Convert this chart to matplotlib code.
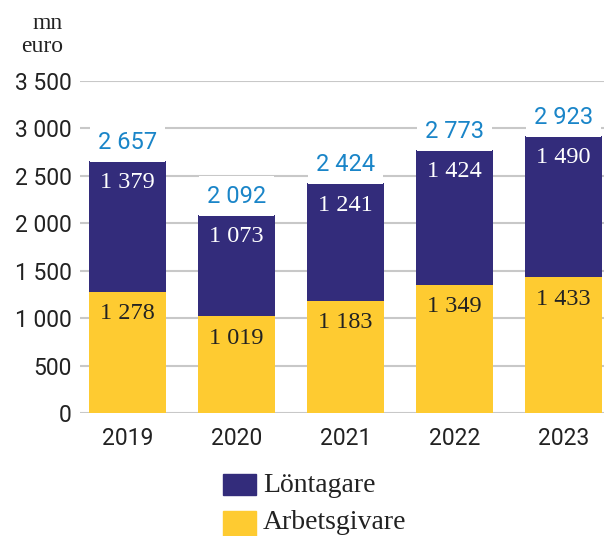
import matplotlib.pyplot as plt
import numpy as np

# data
years = ["2019", "2020", "2021", "2022", "2023"]
lontagare = [1379, 1073, 1241, 1424, 1490]
arbetsgivare = [1278, 1019, 1183, 1349, 1433]
totals = [2657, 2092, 2424, 2773, 2923]
yticks = [0, 500, 1000, 1500, 2000, 2500, 3000, 3500]

NAVY = "#332c7b"
YELLOW = "#fecb31"
BLUE = "#1a85c8"
TXT = "#222222"
SERIF = "Liberation Serif"
SANS = "Roboto"

def fmt(v):
    return f"{v:,}".replace(",", " ")

fig = plt.figure(figsize=(6.04, 5.36), dpi=100)
ax = fig.add_axes([80 / 604, 1 - 413 / 536, 524 / 604, (413 - 81) / 536])

x = np.arange(len(years))
w = 0.705
ax.bar(x, arbetsgivare, w, color=YELLOW, zorder=2)
ax.bar(x, lontagare, w, bottom=arbetsgivare, color=NAVY, zorder=2)

for i in range(len(years)):
    ax.annotate(fmt(arbetsgivare[i]), (x[i], arbetsgivare[i]), xytext=(0, -14),
                textcoords="offset points", ha="center", va="center_baseline",
                fontsize=17.5, family=SERIF, color=TXT, zorder=3)
    ax.annotate(fmt(lontagare[i]), (x[i], totals[i]), xytext=(0, -14),
                textcoords="offset points", ha="center", va="center_baseline",
                fontsize=17.5, family=SERIF, color="white", zorder=3)
    ax.annotate(fmt(totals[i]), (x[i], totals[i]), xytext=(0, 15),
                textcoords="offset points", ha="center", va="center_baseline",
                fontsize=17, family=SANS, color=BLUE, zorder=3,
                bbox=dict(boxstyle="square,pad=0.35", fc="white", ec="none"))

ax.set_xlim(-0.436, 4.37)
ax.set_ylim(0, 3500)
ax.set_yticks(yticks)
ax.set_yticklabels([fmt(v) for v in yticks], family=SANS, fontsize=16.5, color=TXT)
ax.set_xticks(x)
ax.set_xticklabels(years, family=SANS, fontsize=16.5, color=TXT)
ax.tick_params(axis="both", length=0)
ax.tick_params(axis="y", pad=6)
ax.tick_params(axis="x", pad=10)
ax.grid(axis="y", color="#c8c8c8", linewidth=1.5, zorder=0)
for s in ax.spines.values():
    s.set_visible(False)
ax.set_axisbelow(True)

fig.text(63 / 604, 1 - 29 / 536, "mn", ha="right", va="baseline",
         family=SERIF, fontsize=17, color=TXT)
fig.text(63 / 604, 1 - 52 / 536, "euro", ha="right", va="baseline",
         family=SERIF, fontsize=17, color=TXT)

# legend drawn manually
for y0, y1, base, col, lab in [(474, 495, 492, NAVY, "Löntagare"),
                               (511, 536, 529, YELLOW, "Arbetsgivare")]:
    fig.patches.append(plt.Rectangle((223 / 604, 1 - y1 / 536), 33 / 604, (y1 - y0) / 536,
                                     transform=fig.transFigure, color=col))
    fig.text(263 / 604, 1 - base / 536, lab, ha="left", va="baseline",
             family=SERIF, fontsize=20, color=TXT)

fig.savefig("out.png", dpi=100)
